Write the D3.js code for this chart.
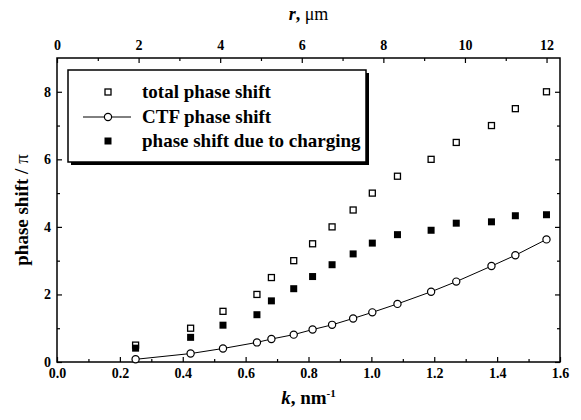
<!DOCTYPE html>
<html>
<head>
<meta charset="utf-8">
<script src="https://cdn.jsdelivr.net/npm/d3@7"></script>
<style>
  body { margin: 0; background: #fff; }
  svg, svg text { font-family: "Liberation Serif", "Times New Roman", serif; }
  .tick text { font-size: 14px; font-weight: bold; fill: #000; }
  .tick line { stroke: #000; stroke-width: 1.2; }
</style>
</head>
<body>
<div id="container"></div>
<script>
// data
const kVals = [0.25, 0.425, 0.528, 0.636, 0.682, 0.753, 0.813, 0.875, 0.942, 1.003, 1.083, 1.19, 1.27, 1.382, 1.458, 1.557];
const totalShift = [0.5, 1.0, 1.5, 2.0, 2.5, 3.0, 3.5, 4.0, 4.5, 5.0, 5.5, 6.0, 6.5, 7.0, 7.5, 8.0];
const ctfShift = [0.08, 0.25, 0.40, 0.58, 0.68, 0.81, 0.96, 1.10, 1.29, 1.47, 1.72, 2.08, 2.38, 2.84, 3.16, 3.63];
const chargeShift = [0.41, 0.73, 1.09, 1.40, 1.81, 2.17, 2.53, 2.88, 3.20, 3.52, 3.77, 3.90, 4.11, 4.15, 4.33, 4.36];

const kTicks = [0, 0.2, 0.4, 0.6, 0.8, 1.0, 1.2, 1.4, 1.6];
const kMinor = [0.1, 0.3, 0.5, 0.7, 0.9, 1.1, 1.3, 1.5];
const yTicks = [0, 2, 4, 6, 8];
const yMinor = [1, 3, 5, 7];
const rTicks = [0, 2, 4, 6, 8, 10, 12];
const rMinor = [1, 3, 5, 7, 9, 11];

const legendItems = ["total phase shift", "CTF phase shift", "phase shift due to charging"];

const width = 581, height = 420;
const margin = { top: 58, right: 21, bottom: 58, left: 57 };
const plotW = width - margin.left - margin.right;
const plotH = height - margin.top - margin.bottom;
const serif = "'Liberation Serif', 'Times New Roman', serif";

const svg = d3.select("#container").append("svg")
  .attr("width", width)
  .attr("height", height);

const g = svg.append("g").attr("transform", `translate(${margin.left},${margin.top})`);

const x = d3.scaleLinear().domain([0, 1.6]).range([0, plotW]);
const xTop = d3.scaleLinear().domain([0, 12.33]).range([0, plotW]);
const y = d3.scaleLinear().domain([0, 9]).range([plotH, 0]);

// axes (ticks pointing inward)
g.append("g").attr("transform", `translate(0,${plotH})`)
  .call(d3.axisBottom(x).tickValues(kTicks).tickSize(-5).tickPadding(6).tickFormat(d3.format(".1f")));
g.append("g").attr("transform", `translate(0,${plotH})`)
  .call(d3.axisBottom(x).tickValues(kMinor).tickSize(-3).tickFormat(""));

g.append("g")
  .call(d3.axisTop(xTop).tickValues(rTicks).tickSize(-5).tickPadding(8).tickFormat(d3.format("d")));
g.append("g")
  .call(d3.axisTop(xTop).tickValues(rMinor).tickSize(-3).tickFormat(""));

g.append("g")
  .call(d3.axisLeft(y).tickValues(yTicks).tickSize(-5).tickPadding(6).tickFormat(d3.format("d")));
g.append("g")
  .call(d3.axisLeft(y).tickValues(yMinor).tickSize(-3).tickFormat(""));

g.append("g").attr("transform", `translate(${plotW},0)`)
  .call(d3.axisRight(y).tickValues(yTicks).tickSize(-5).tickFormat(""));
g.append("g").attr("transform", `translate(${plotW},0)`)
  .call(d3.axisRight(y).tickValues(yMinor).tickSize(-3).tickFormat(""));

g.selectAll(".domain").remove();
g.selectAll("g").attr("font-family", serif);

g.append("rect")
  .attr("width", plotW)
  .attr("height", plotH)
  .attr("fill", "none")
  .attr("stroke", "#000")
  .attr("stroke-width", 1.5);

// axis titles
svg.append("text")
  .attr("x", margin.left + plotW / 2)
  .attr("y", 404)
  .attr("text-anchor", "middle")
  .attr("font-family", serif)
  .style("font-size", "19px")
  .style("font-weight", "bold")
  .call(t => {
    t.append("tspan").style("font-style", "italic").text("k");
    t.append("tspan").text(", nm");
    t.append("tspan").attr("dy", -7).style("font-size", "11px").text("-1");
  });

svg.append("text")
  .attr("x", margin.left + plotW / 2)
  .attr("y", 20)
  .attr("text-anchor", "middle")
  .attr("font-family", serif)
  .style("font-size", "18px")
  .style("font-weight", "bold")
  .call(t => {
    t.append("tspan").style("font-style", "italic").text("r");
    t.append("tspan").text(", ");
    t.append("tspan").style("font-weight", "normal").text("μm");
  });

svg.append("text")
  .attr("transform", `translate(28,${margin.top + plotH / 2}) rotate(-90)`)
  .attr("text-anchor", "middle")
  .attr("font-family", serif)
  .style("font-size", "19px")
  .style("font-weight", "bold")
  .call(t => {
    t.append("tspan").text("phase shift / ");
    t.append("tspan").style("font-weight", "normal").text("π");
  });

// CTF line + circles
const pts = kVals.map((k, i) => ({ k, total: totalShift[i], ctf: ctfShift[i], charge: chargeShift[i] }));

g.append("path")
  .datum(pts)
  .attr("fill", "none")
  .attr("stroke", "#000")
  .attr("stroke-width", 1)
  .attr("d", d3.line().x(d => x(d.k)).y(d => y(d.ctf)));

g.selectAll(".ctf").data(pts).enter().append("circle")
  .attr("class", "ctf")
  .attr("cx", d => x(d.k))
  .attr("cy", d => y(d.ctf))
  .attr("r", 3.6)
  .attr("fill", "#fff")
  .attr("stroke", "#000")
  .attr("stroke-width", 1.2);

const sq = 6;
g.selectAll(".total").data(pts).enter().append("rect")
  .attr("class", "total")
  .attr("x", d => x(d.k) - sq / 2)
  .attr("y", d => y(d.total) - sq / 2)
  .attr("width", sq)
  .attr("height", sq)
  .attr("fill", "#fff")
  .attr("stroke", "#000")
  .attr("stroke-width", 1.3);

g.selectAll(".charge").data(pts).enter().append("rect")
  .attr("class", "charge")
  .attr("x", d => x(d.k) - (sq + 1) / 2)
  .attr("y", d => y(d.charge) - (sq + 1) / 2)
  .attr("width", sq + 1)
  .attr("height", sq + 1)
  .attr("fill", "#000");

// legend box with shadow
const lg = svg.append("g").attr("transform", "translate(68,70)");
const lgW = 298, lgH = 92;
lg.append("rect").attr("x", 3).attr("y", 3).attr("width", lgW).attr("height", lgH).attr("fill", "#000");
lg.append("rect").attr("width", lgW).attr("height", lgH)
  .attr("fill", "#fff").attr("stroke", "#000").attr("stroke-width", 1.5);

const rowY = [22, 47, 71];
const symX = 40;

lg.append("rect").attr("x", symX - 3).attr("y", rowY[0] - 3).attr("width", sq).attr("height", sq)
  .attr("fill", "#fff").attr("stroke", "#000").attr("stroke-width", 1.3);
lg.append("line").attr("x1", 15).attr("x2", 63).attr("y1", rowY[1]).attr("y2", rowY[1])
  .attr("stroke", "#000").attr("stroke-width", 1);
lg.append("circle").attr("cx", symX).attr("cy", rowY[1]).attr("r", 3.6)
  .attr("fill", "#fff").attr("stroke", "#000").attr("stroke-width", 1.2);
lg.append("rect").attr("x", symX - 3.5).attr("y", rowY[2] - 3.5).attr("width", sq + 1).attr("height", sq + 1)
  .attr("fill", "#000");

lg.selectAll(".lt").data(legendItems).enter().append("text")
  .attr("x", 74)
  .attr("y", (d, i) => rowY[i] + 6)
  .attr("font-family", serif)
  .style("font-size", "19px")
  .style("font-weight", "bold")
  .text(d => d);
</script>
</body>
</html>
